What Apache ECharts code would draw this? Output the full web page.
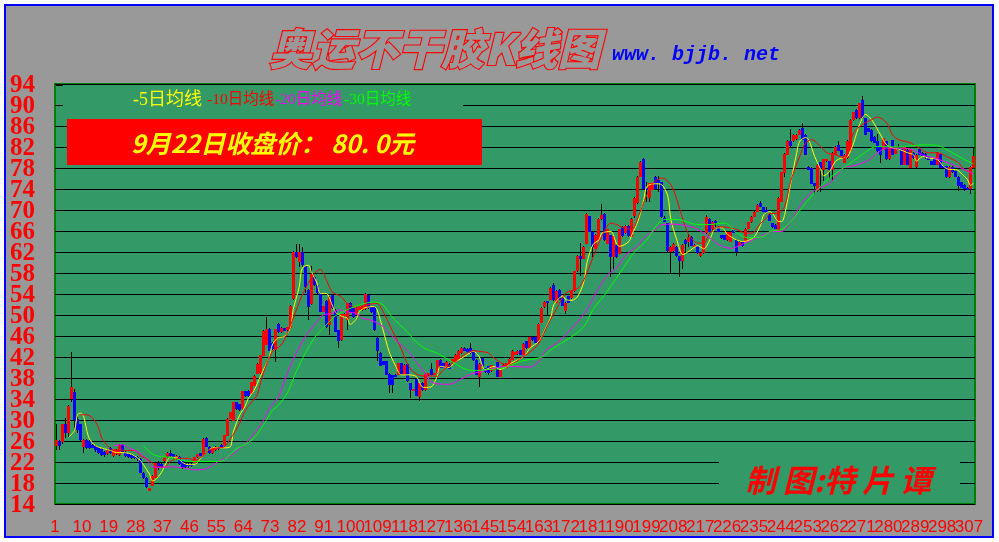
<!DOCTYPE html>
<html><head><meta charset="utf-8">
<style>html,body{margin:0;padding:0;background:#fff}
#frame{position:absolute;left:4px;top:4px;width:990px;height:534px;box-sizing:border-box;border:2px solid #0000ff;background:#999999}
#c{position:absolute;left:0;top:0;width:999px;height:542px}</style>
<script src="https://cdn.jsdelivr.net/npm/echarts@6/dist/echarts.min.js"></script>
</head><body><div id="frame"></div><div id="c"></div>
<script>
const opens=[25.1,26.0,25.9,29.2,27.6,34.0,35.3,30.2,29.2,24.9,
26.2,26.0,25.3,25.1,24.8,24.5,24.0,23.5,24.7,23.2,
23.6,23.4,25.3,24.0,23.5,23.4,23.2,23.0,22.6,20.0,
19.0,16.5,17.5,19.0,21.9,21.7,22.1,22.9,23.8,23.5,
22.6,23.0,22.1,21.8,21.7,21.7,21.9,22.9,23.7,23.4,
26.6,24.9,23.7,24.2,24.8,25.3,25.1,27.0,30.2,29.9,
33.4,33.0,32.1,35.5,35.6,35.0,36.5,38.8,39.0,42.2,
44.3,47.3,44.7,43.3,48.3,46.7,47.5,47.1,47.5,53.0,
62.0,60.1,62.0,59.3,54.8,52.1,57.3,55.7,54.1,50.6,
52.7,48.1,53.8,51.0,47.1,45.2,49.8,49.0,52.2,51.3,
50.0,51.0,50.9,51.1,53.8,51.5,51.6,45.7,42.8,41.2,
41.2,38.8,38.5,38.6,38.6,40.8,38.6,40.6,37.0,35.7,
37.8,34.4,37.1,35.7,38.5,39.8,38.7,38.9,41.5,40.8,
40.0,40.7,40.8,41.1,41.7,42.7,43.8,43.6,43.8,43.3,
41.5,38.2,41.8,39.9,40.2,39.3,39.6,41.0,38.2,40.2,
40.0,40.6,41.5,42.4,42.5,43.3,42.4,45.0,43.7,45.8,
45.8,44.8,48.5,51.5,52.6,52.9,55.7,52.3,54.8,53.2,
50.7,53.6,53.2,54.5,58.3,61.3,60.7,63.6,68.8,65.9,
62.6,64.3,68.2,69.3,63.6,65.2,61.0,63.4,61.7,66.8,
65.6,67.0,64.9,68.9,71.3,76.3,79.8,74.1,72.3,73.9,
76.3,75.8,75.3,68.5,67.5,62.0,62.1,63.0,61.2,60.2,
64.3,64.0,64.9,63.1,63.1,61.2,61.8,65.6,68.3,66.3,
68.0,66.8,65.2,65.2,64.2,64.0,66.1,64.3,63.2,64.0,
64.0,66.4,67.7,68.7,69.7,71.3,70.5,70.0,69.1,67.5,
67.2,65.9,71.6,77.0,80.5,83.2,83.1,83.5,84.3,85.7,
84.3,78.2,78.0,75.1,73.6,79.1,77.7,79.3,79.3,77.7,
80.5,82.3,81.4,79.0,79.9,81.2,87.1,89.1,87.5,90.9,
87.5,85.6,85.3,84.0,83.1,82.0,81.5,83.1,79.7,83.3,
80.7,81.8,81.6,78.6,81.5,78.0,80.9,78.1,81.6,80.9,
80.7,80.2,79.3,79.9,78.6,80.7,78.3,78.3,76.2,78.2,
77.4,76.3,75.3,74.8,74.2,74.0,78.0];
const closes=[26.2,25.1,29.2,27.6,32.7,36.2,30.0,28.1,26.1,26.2,
24.7,24.7,24.7,24.2,23.8,23.4,23.3,24.2,23.8,24.2,
24.2,25.3,24.0,23.2,22.9,22.8,22.8,22.5,20.0,19.0,
17.2,17.0,19.4,21.9,20.9,21.0,22.9,23.8,23.2,22.8,
23.2,21.7,20.9,21.0,21.3,21.3,22.9,23.5,23.2,26.4,
24.9,23.7,24.7,24.9,24.5,24.8,27.1,30.2,31.5,33.4,
32.1,31.9,35.5,34.6,34.6,37.2,38.4,40.7,42.3,47.0,
47.4,43.2,43.5,47.3,46.8,47.6,47.0,47.7,51.8,62.0,
61.0,62.0,59.5,55.3,51.5,57.9,55.7,54.1,50.6,51.7,
47.7,53.5,51.3,46.8,45.1,50.1,50.2,52.2,50.6,49.6,
51.4,51.5,51.7,54.0,51.3,50.5,47.1,43.2,40.3,40.5,
38.6,36.7,36.7,38.4,40.8,38.6,40.5,37.4,35.7,35.9,
34.6,37.0,35.7,38.8,38.9,38.6,38.9,41.4,40.0,40.0,
41.1,39.8,41.6,42.4,43.2,43.8,43.2,43.0,42.7,41.4,
38.6,40.7,40.2,39.1,39.0,40.4,39.9,38.2,39.9,40.5,
40.8,41.7,43.2,42.9,43.2,42.4,44.5,43.7,45.8,45.2,
44.7,48.3,51.4,52.5,52.4,55.2,52.8,54.6,52.9,51.8,
52.3,52.3,54.5,58.3,61.3,60.7,63.0,69.3,65.9,62.9,
65.3,68.3,69.1,64.2,66.3,61.0,65.0,61.0,66.3,65.0,
67.0,65.0,68.3,72.3,76.3,79.2,74.0,73.9,75.1,75.1,
74.0,75.1,68.6,67.8,62.1,63.0,63.6,61.2,60.2,63.4,
63.6,64.9,63.2,63.4,61.8,61.8,65.0,68.7,65.9,67.8,
67.5,65.9,64.6,64.3,65.9,65.9,65.7,62.0,64.0,63.1,
66.4,67.7,68.7,69.7,71.0,70.6,69.7,69.5,68.0,66.7,
66.4,72.3,77.2,80.7,83.2,82.1,84.3,84.3,85.3,83.4,
80.5,77.7,75.0,74.5,78.6,78.0,79.7,79.7,77.7,80.9,
82.0,81.3,80.3,80.5,83.2,87.2,88.6,87.5,90.3,87.5,
84.3,84.9,83.1,82.8,81.2,80.5,83.7,79.7,82.1,80.5,
81.8,81.6,78.6,82.0,78.6,81.6,79.9,80.5,80.5,80.3,
79.9,79.6,78.6,78.6,80.9,78.0,78.0,76.2,78.2,77.2,
76.3,74.6,74.2,74.0,73.9,78.2,80.3];
const lows=[24.2,24.3,25.4,26.5,26.7,33.5,28.1,27.5,25.9,23.7,
24.5,24.5,24.6,24.0,23.6,23.2,23.0,23.3,23.5,23.0,
23.4,23.2,23.9,23.0,22.7,22.5,22.5,22.2,19.9,18.8,
17.0,16.4,17.4,18.9,20.5,20.8,22.0,22.8,23.0,22.5,
22.4,21.5,20.7,20.8,20.9,21.1,21.8,22.8,23.1,23.3,
24.8,23.5,23.6,24.1,24.3,24.7,25.0,26.9,30.1,29.8,
32.0,31.8,32.0,34.4,34.4,34.9,36.4,38.7,38.8,42.1,
44.2,43.1,43.3,41.1,46.6,46.5,46.9,47.0,47.4,52.9,
60.8,59.2,59.2,54.1,49.0,52.0,55.5,54.0,50.5,50.5,
47.5,46.2,51.2,46.7,43.8,45.1,49.6,47.1,50.4,49.4,
49.9,50.9,50.8,51.0,51.2,50.4,47.0,41.2,40.2,40.4,
38.5,35.2,35.2,38.3,38.5,38.5,38.5,37.3,34.1,35.6,
34.5,33.6,35.6,35.6,38.4,38.5,38.6,38.8,39.9,39.9,
39.9,39.7,40.7,41.0,41.6,42.6,43.1,42.9,42.6,41.3,
38.5,36.2,40.1,38.9,38.5,39.2,39.5,38.1,38.1,40.1,
39.9,40.5,41.4,42.3,42.4,42.3,42.3,43.6,43.6,45.1,
44.6,44.7,48.4,51.4,50.0,52.8,52.7,52.2,52.8,51.7,
50.2,52.2,53.1,54.4,58.2,57.4,60.6,63.5,65.8,61.1,
62.5,64.2,68.1,64.1,63.5,57.2,58.7,60.9,61.6,64.9,
65.5,64.9,64.8,68.4,71.2,76.2,73.9,71.6,71.5,73.8,
73.9,73.5,68.5,67.7,62.0,58.0,62.0,61.1,57.3,58.7,
62.0,63.0,63.1,63.0,61.7,61.1,61.7,65.5,65.8,66.2,
66.5,65.8,64.5,64.2,64.1,63.9,65.6,61.2,63.1,63.0,
63.9,66.3,67.6,68.6,69.6,70.5,69.6,69.4,67.9,66.6,
66.3,65.8,71.5,76.3,80.4,82.0,83.0,83.4,84.2,83.3,
80.4,77.6,74.9,73.1,73.5,73.5,75.5,79.2,76.0,75.6,
80.4,81.2,80.2,78.9,79.8,81.1,87.0,87.4,87.4,87.4,
84.2,84.8,83.0,82.7,81.1,79.0,81.4,79.6,79.6,80.4,
80.6,81.5,78.5,78.5,78.5,77.9,79.8,78.0,80.4,80.2,
79.8,79.5,78.5,78.5,78.5,77.9,77.9,76.1,76.1,77.1,
76.2,73.7,74.1,73.7,73.8,73.1,77.9];
const highs=[29.2,26.1,29.3,30.4,32.8,43.0,36.0,31.0,29.3,26.3,
26.3,26.1,25.5,25.2,24.9,24.6,24.1,24.4,24.9,24.3,
24.4,25.4,25.4,24.1,23.7,23.5,23.3,23.1,22.8,20.1,
19.1,17.1,19.5,22.0,22.1,21.8,23.0,23.9,24.3,23.6,
23.3,23.1,22.2,21.9,21.8,21.8,23.0,23.6,23.8,26.5,
26.7,25.0,24.8,25.1,24.9,25.4,27.2,30.3,31.6,33.5,
33.5,33.1,35.6,35.6,35.7,37.3,38.5,40.8,42.4,47.1,
49.6,47.5,44.8,47.4,48.4,47.7,47.6,47.8,51.9,62.1,
63.5,63.5,63.0,59.4,54.9,59.3,57.4,55.8,54.2,51.8,
52.8,53.6,53.9,51.1,47.2,50.2,50.4,52.3,52.5,51.4,
51.5,51.6,51.8,54.1,53.9,51.6,51.7,45.8,42.9,41.3,
41.3,38.9,38.6,38.7,40.9,40.9,40.6,40.7,37.1,36.0,
37.9,37.1,37.2,38.9,39.0,40.8,39.0,41.5,41.6,40.9,
41.2,40.8,41.7,42.5,43.3,43.9,43.9,43.7,44.6,43.4,
41.6,40.8,41.9,40.0,40.3,40.5,40.0,41.1,40.0,40.6,
40.9,41.8,43.3,43.0,43.3,43.4,44.6,45.1,45.9,45.9,
45.9,48.4,51.5,52.6,52.7,55.3,56.1,54.7,54.9,53.3,
52.4,53.7,54.6,58.4,61.4,63.7,63.1,69.4,68.9,66.0,
65.4,68.4,71.2,69.4,66.4,65.3,65.1,63.5,66.4,66.9,
67.1,67.1,68.4,72.4,76.4,79.3,79.9,75.3,75.2,75.2,
76.4,76.4,75.4,68.9,67.6,63.1,63.7,63.1,61.3,63.5,
64.4,65.4,65.0,63.5,63.2,61.9,65.1,69.1,68.4,67.9,
68.1,66.9,65.3,65.3,66.0,66.0,66.2,64.4,64.1,64.1,
66.5,67.8,68.8,69.8,71.1,71.8,70.6,70.6,69.2,67.6,
67.3,72.4,77.3,80.8,83.3,85.4,84.4,84.4,85.4,86.6,
84.4,78.3,78.1,75.2,78.7,79.2,79.8,79.8,79.4,81.0,
82.1,83.1,81.5,80.6,83.3,87.3,88.7,89.2,90.4,91.7,
87.6,85.7,85.4,84.1,84.5,82.1,83.8,83.2,82.2,83.4,
81.9,82.5,81.7,82.1,81.6,81.7,81.0,80.6,81.7,81.0,
80.8,80.3,79.4,80.0,81.0,80.8,78.4,78.4,78.3,78.3,
77.5,76.4,75.4,74.9,74.3,78.3,81.8];
const ma5=[[5,26.7],[7,28],[8,31],[9,31.3],[10,30.8],[11,28.3],[12,26.4],[14,25.1],[17,24.5],[19,24.2],[21,23.8],[23,23.8],[26,23.5],[29,22.3],[30,21.5],[32,19.7],[33,18.4],[34,18.6],[36,20],[38,22.3],[39,22.9],[41,22.9],[43,21.9],[45,21.5],[47,21.5],[49,22.6],[51,23.8],[53,24.7],[55,24.7],[57,24.7],[59,24.9],[60,27.7],[62,30.8],[64,32.7],[65,34.1],[67,35.7],[69,38.3],[72,42],[73,44.3],[75,45.7],[77,45.9],[79,47.5],[80,51],[82,55.4],[83,58.9],[85,59.5],[86,58.3],[88,56],[89,54.1],[91,54.1],[93,51.9],[94,50.6],[96,49.8],[98,49.4],[99,48.2],[101,49.2],[102,50.6],[104,51.4],[107,51.6],[108,51],[110,47.1],[112,43],[114,40.5],[116,38.6],[118,38.6],[121,38.3],[123,36.3],[124,36.2],[126,36.3],[128,38.3],[129,40.2],[132,40],[134,41.1],[136,41.7],[139,42.8],[140,43.1],[142,42.1],[144,39.6],[147,40.2],[149,39.6],[151,40.1],[153,40.9],[157,42.1],[159,43.7],[162,45],[164,47.2],[166,49.7],[167,52],[170,53.6],[171,52.9],[173,52.8],[175,53.6],[177,56.4],[178,59.9],[180,63.4],[182,64.3],[183,65.6],[186,65.9],[188,63.4],[189,63.1],[192,64],[193,65.3],[195,67.8],[197,72],[198,74.5],[201,75],[203,74.8],[205,72.6],[206,68.2],[208,64.3],[210,61.5],[212,62.1],[215,63.2],[217,62.6],[219,64.3],[221,66.6],[223,66.6],[225,65.3],[228,64.3],[230,64],[232,64.2],[234,65],[236,67.2],[237,69.1],[239,69.7],[240,69.3],[242,67.8],[243,67.8],[244,69.1],[246,75.1],[248,80.9],[249,83.1],[251,83.8],[252,83.4],[254,80.2],[256,77.7],[257,76.5],[259,77.4],[261,79.3],[263,79.9],[265,80.2],[267,82.8],[269,86.3],[271,88.2],[273,87.2],[276,84.3],[278,82.4],[280,81.8],[282,81.6],[285,80.9],[287,80.5],[288,79.3],[290,80.2],[292,79.9],[295,79.6],[297,78.3],[299,77.7],[301,77.7],[304,76.4],[305,75.8],[306,74.7],[307,75.1]];
const ma10=[[9,31],[11,31],[13,30.4],[15,28.6],[16,26.7],[18,25.1],[20,24.3],[22,24.3],[24,24.2],[27,24.2],[29,23.2],[32,22.3],[34,21.3],[37,21],[39,22.1],[42,22.7],[45,22.7],[47,22.3],[50,23.2],[52,24.3],[55,24.7],[57,24.9],[59,26.4],[62,29.2],[64,31.8],[67,34],[68,34.8],[70,38.9],[73,43],[76,44.3],[78,46.5],[80,49.4],[83,53.8],[85,56],[87,57.9],[89,58.7],[91,56.7],[93,54.4],[96,53.5],[98,52.2],[101,51.5],[104,51.9],[108,52.2],[110,50.6],[113,47.1],[116,43.6],[118,40.8],[120,39.2],[123,38.4],[126,38.4],[128,38.3],[130,39.5],[134,41.1],[137,42.4],[140,43.2],[143,43],[145,42.8],[147,41.8],[150,40.7],[152,40.5],[156,41.8],[160,43.4],[162,44.7],[165,48.2],[168,51.3],[171,54.2],[175,55.1],[177,56.7],[180,60.9],[183,65],[186,67.5],[188,67.2],[190,66.6],[193,66.3],[195,68.5],[198,72.9],[200,75.1],[203,76.1],[206,74.8],[208,72],[210,68.2],[212,65.3],[215,63.7],[217,63.7],[219,65.6],[222,66.8],[225,66.7],[228,66.3],[231,65.6],[233,65.6],[236,67.5],[238,68.5],[239,69.3],[242,69.4],[244,70.7],[246,75.5],[249,80.2],[251,82.8],[253,83.4],[256,82.1],[258,80.9],[261,80.5],[264,79.9],[267,84.7],[270,86.3],[273,87.2],[275,87.7],[278,86.6],[280,84.3],[282,83.4],[286,82.8],[288,82.1],[292,80.9],[295,80.9],[298,80.2],[302,79],[304,77.7],[307,76.9]];
const ma20=[[20,25.1],[23,25.3],[25,24.7],[28,24],[31,22.6],[33,21.1],[36,21],[39,21.1],[43,20.9],[47,20.5],[51,20.7],[55,22.1],[59,23.2],[62,24.5],[66,26.7],[70,29.9],[72,32.2],[75,34.4],[78,38.9],[81,42.7],[84,45.9],[87,48.1],[90,50],[93,50.3],[95,51],[98,50.6],[101,50.3],[103,49.4],[106,49],[110,47.8],[113,45.9],[116,44.3],[119,42.7],[121,41.1],[124,38.9],[126,37.3],[128,36.9],[132,36.8],[136,37.8],[140,38.9],[143,39.2],[145,39.6],[151,40.2],[159,40.1],[162,41.2],[164,43.1],[168,44.7],[172,46.9],[175,48.8],[178,51],[181,54.2],[185,57.7],[188,59],[191,61.5],[195,63.1],[197,64.7],[201,66.3],[203,67.2],[207,67.3],[212,66.9],[215,66.3],[219,64.7],[222,63.4],[226,62.7],[230,63.5],[236,65],[240,65.9],[243,65.9],[246,67.8],[249,70.7],[252,72.9],[255,74],[259,75.1],[262,77],[264,78.2],[267,78.4],[272,79.5],[275,80.9],[278,81.8],[282,81.8],[286,81.6],[290,80.5],[294,79.9],[297,79.3],[302,78.2],[307,76.9]];
const ma30=[[30,25.1],[33,23.5],[36,23],[39,22.9],[42,22.4],[46,22.1],[50,22.1],[55,22.1],[57,22.4],[61,24.5],[65,25.7],[68,27.3],[71,29.9],[73,31.8],[75,32.8],[78,35.1],[81,39.2],[84,42.7],[87,45.6],[90,47.5],[94,49.8],[98,51],[102,51.9],[107,52.5],[110,51.9],[113,49.6],[118,46.8],[121,44.9],[124,43.6],[128,42.7],[133,41.1],[137,39.8],[140,39.4],[145,39.6],[150,39.9],[156,41.2],[163,42],[166,43.4],[173,45.9],[177,47.8],[180,51],[184,53.9],[189,58],[194,62.1],[198,64.3],[201,66.9],[204,68.2],[208,68.2],[214,67.3],[218,67.2],[224,67.5],[228,65.6],[232,64.7],[237,65],[239,65.9],[243,66.3],[246,67.8],[251,71.3],[255,73.9],[259,76.1],[265,78.6],[269,80.2],[273,81.8],[275,82.1],[282,82],[290,82.4],[295,82.3],[299,81.2],[304,79.6],[307,78.8]];
const categories=opens.map((_,i)=>String(i+1));
const yTickLabels=['14','18','22','26','30','34','38','42','46','50','54','58','62','66','70','74','78','82','86','90','94'];
const yTicks={min:14,max:94,step:4};
const zb=i=>[i[0]-1,i[1]];
const bars=opens.map((o,i)=>[i,o,closes[i],lows[i],highs[i]]);
const lineSeries=(name,d,c)=>({name,type:'line',data:d.map(zb),showSymbol:false,smooth:0.3,z:5,animation:false,silent:true,lineStyle:{color:c,width:1}});
const serif='"Liberation Serif","Noto Sans CJK SC"';
const cjk='"Noto Sans CJK SC"';
const legendBits=[['-5日均线','#ffff00',133,18],['-10日均线','#ff0000',207,15.5],['-20日均线','#ff00ff',275,15.5],['-30日均线','#00ff00',344,15.5]];
const T=(text,x,y,font,fill,extra)=>({type:'text',z:20,style:Object.assign({text,x,y,font,fill,verticalAlign:'middle'},extra||{})});
const R=(x,y,w,h,fill)=>({type:'rect',z:10,shape:{x,y,width:w,height:h},style:{fill}});
const chart=echarts.init(document.getElementById('c'),null,{renderer:'canvas'});
chart.setOption({
 animation:false,
 grid:[
  {left:55,top:84,width:920,height:420,show:true,backgroundColor:'#339966',borderColor:'#008000',borderWidth:2},
  {left:53.5,top:86,width:917,height:420,show:false}
 ],
 xAxis:[
  {type:'category',gridIndex:0,data:categories,axisLine:{show:false},axisTick:{show:false},splitLine:{show:false},axisLabel:{show:false}},
  {type:'category',gridIndex:1,data:categories,axisLine:{show:false},axisTick:{show:false},splitLine:{show:false},
   axisLabel:{interval:0,color:'#ff0000',fontFamily:'"Liberation Sans"',fontSize:17,margin:13,hideOverlap:false,
     formatter:(v,i)=>i%9===0?v:''}}
 ],
 yAxis:[
  {type:'value',gridIndex:0,min:yTicks.min,max:yTicks.max,interval:yTicks.step,axisLine:{show:false},axisTick:{show:false},
   splitLine:{show:true,lineStyle:{color:'#000000',width:1}},axisLabel:{show:false}},
  {type:'category',gridIndex:1,data:yTickLabels,boundaryGap:false,axisLine:{show:false},axisTick:{show:false},splitLine:{show:false},
   axisLabel:{interval:0,color:'#ff0000',fontFamily:'"Liberation Serif"',fontWeight:'bold',fontSize:25,margin:18.5,hideOverlap:false}}
 ],
 series:[
  {name:'K线',type:'custom',data:bars,encode:{x:0,y:[1,2,3,4]},clip:true,z:3,silent:true,
   renderItem(params,api){
     const i=api.value(0),o=api.value(1),c=api.value(2),l=api.value(3),h=api.value(4);
     const cx=api.coord([i,o])[0];
     const x0=Math.round(cx-1.5);
     const yo=Math.round(api.coord([i,o])[1]),yc=Math.round(api.coord([i,c])[1]);
     const yl=Math.round(api.coord([i,l])[1]),yh=Math.round(api.coord([i,h])[1]);
     return {type:'group',children:[
       {type:'rect',shape:{x:x0+1,y:yh,width:1,height:Math.max(1,yl-yh)},style:{fill:'#000000'}},
       {type:'rect',shape:{x:x0,y:Math.min(yo,yc),width:3,height:Math.max(2,Math.abs(yo-yc))},style:{fill:c>=o?'#ff0000':'#0000ff'}}
     ]};
   }},
  lineSeries('5日均线',ma5,'#ffff00'),
  lineSeries('10日均线',ma10,'#ff0000'),
  lineSeries('20日均线',ma20,'#ff00ff'),
  lineSeries('30日均线',ma30,'#00ff00')
 ],
 graphic:{elements:[
  R(63,85,400,25,'#339966'),
  R(719,442,241,61,'#339966'),
  {type:'rect',z:11,shape:{x:56,y:85,width:7,height:1},style:{fill:'#000000'}},
  R(67,119,415,46,'#ff0000'),
  ...legendBits.map(b=>T(b[0],b[2],100,`${b[3]}px ${serif}`,b[1])),
  T('9月22日收盘价： 80. 0元',131,143,`italic bold 25px ${cjk}`,'#ffff00'),
  T('奥运不干胶K线图',269,49,`italic 900 43px ${cjk}`,'#999999',{stroke:'#ff0000',lineWidth:2.2,lineJoin:'round'}),
  T('www. bjjb. net',612,55,'italic bold 20px "Liberation Mono"','#0000ff'),
  T('制 图:特 片 谭',745,480,`italic bold 31px ${cjk}`,'#ff0000')
 ]}
});
</script></body></html>
